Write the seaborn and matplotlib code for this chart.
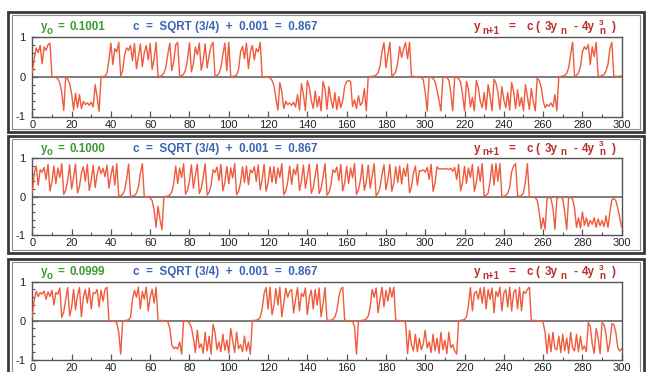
import matplotlib
matplotlib.use("Agg")
import matplotlib.pyplot as plt
from matplotlib.patches import Rectangle
from matplotlib.ticker import MultipleLocator, FixedLocator
import numpy as np
import pandas as pd
import seaborn as sns

# ---------------- data ----------------
steps = list(range(301))

y0_labels = ["0.1001", "0.1000", "0.0999"]
c_label = "c  =  SQRT (3/4)  +  0.001  =  0.867"

x_tick_values = [0, 20, 40, 60, 80, 100, 120, 140, 160, 180, 200, 220, 240, 260, 280, 300]
x_tick_labels = ["0", "20", "40", "60", "80", "100", "120", "140", "160", "180",
                 "300", "220", "240", "260", "280", "300"]
y_tick_values = [-1, 0, 1]
y_tick_labels = ["-1", "0", "1"]

series_a = [
    0.10, 0.45, 0.72, 0.60, 0.78, 0.32, 0.74, 0.66, 0.80, 0.84,
    -0.003, -0.008, -0.02, -0.06, -0.16, -0.40, -0.85, -0.02, -0.06, -0.17,
    -0.42, -0.84, -0.42, -0.78, -0.45, -0.80, -0.62, -0.70, -0.66, -0.72,
    -0.64, -0.76, -0.20, -0.52, -0.87, 0.001, 0.003, 0.01, 0.09, 0.42,
    0.84, 0.30, 0.70, 0.62, 0.86, 0.02, 0.15, 0.55, 0.72, 0.66,
    0.78, 0.40, 0.83, 0.20, 0.50, 0.82, 0.25, 0.60, 0.78, 0.42,
    0.83, 0.18, 0.45, 0.86, 0.004, 0.01, 0.03, 0.09, 0.24, 0.57,
    0.84, 0.15, 0.38, 0.80, 0.86, 0.01, 0.02, 0.06, 0.17, 0.43,
    0.85, 0.12, 0.33, 0.74, 0.55, 0.84, 0.16, 0.40, 0.82, 0.22,
    0.53, 0.77, 0.86, 0.01, 0.03, 0.08, 0.22, 0.55, 0.84, 0.15,
    0.86, 0.004, 0.006, 0.015, 0.04, 0.18, 0.62, 0.76, 0.45, 0.84,
    0.20, 0.62, 0.78, 0.42, 0.70, 0.62, 0.86, 0.001, -0.002, -0.005,
    -0.013, -0.035, -0.09, -0.23, -0.55, -0.84, -0.15, -0.38, -0.80, -0.62,
    -0.70, -0.66, -0.72, -0.64, -0.76, -0.45, -0.84, -0.18, -0.45, -0.85,
    -0.10, -0.26, -0.60, -0.80, -0.36, -0.76, -0.50, -0.86, -0.12, -0.32,
    -0.82, -0.25, -0.58, -0.79, -0.40, -0.83, -0.50, -0.78, -0.60, -0.25,
    -0.12, -0.10, -0.12, -0.75, -0.58, -0.80, -0.48, -0.72, -0.65, -0.30,
    -0.86, 0.001, 0.003, 0.006, 0.015, 0.04, 0.10, 0.27, 0.63, 0.85,
    0.22, 0.55, 0.86, 0.02, 0.05, 0.12, 0.35, 0.75, 0.48, 0.70,
    0.85, 0.45, 0.86, 0.01, 0.005, -0.001, -0.003, -0.008, -0.02, -0.08,
    -0.40, -0.86, -0.01, -0.02, -0.05, -0.13, -0.33, -0.60, -0.86, -0.005,
    -0.012, -0.03, -0.08, -0.40, -0.86, -0.01, -0.02, -0.05, -0.14, -0.45,
    -0.86, -0.12, -0.32, -0.76, -0.52, -0.86, -0.10, -0.27, -0.62, -0.78,
    -0.40, -0.83, -0.20, -0.48, -0.86, -0.06, -0.16, -0.40, -0.82, -0.25,
    -0.58, -0.78, -0.40, -0.84, -0.15, -0.38, -0.80, -0.33, -0.74, -0.52,
    -0.86, -0.20, -0.50, -0.82, -0.30, -0.62, -0.86, -0.04, -0.10, -0.26,
    -0.60, -0.78, -0.70, -0.74, -0.66, -0.76, -0.45, -0.86, 0.002, 0.005,
    0.012, 0.03, 0.08, 0.22, 0.55, 0.86, 0.01, 0.03, 0.09, 0.25,
    0.62, 0.75, 0.68, 0.80, 0.30, 0.75, 0.50, 0.86, 0.005, 0.01,
    0.03, 0.05, 0.14, 0.30, 0.70, 0.86, 0.01, 0.004, 0.006, 0.01,
    0.015,
]

series_b = [
    0.10, 0.62, 0.80, 0.30, 0.70, 0.64, 0.76, 0.45, 0.84, 0.15,
    0.38, 0.80, 0.34, 0.75, 0.50, 0.86, 0.06, 0.17, 0.42, 0.83,
    0.20, 0.50, 0.85, 0.10, 0.26, 0.62, 0.78, 0.40, 0.84, 0.16,
    0.42, 0.82, 0.24, 0.58, 0.79, 0.60, 0.74, 0.52, 0.82, 0.22,
    0.55, 0.80, 0.30, 0.86, 0.01, 0.02, 0.06, 0.17, 0.45, 0.85,
    0.02, 0.01, 0.03, 0.09, 0.25, 0.60, 0.86, -0.002, -0.005, -0.013,
    -0.035, -0.10, -0.35, -0.80, -0.25, -0.60, -0.86, 0.002, 0.005, 0.013,
    0.04, 0.12, 0.35, 0.80, 0.34, 0.75, 0.50, 0.86, 0.06, 0.17,
    0.42, 0.83, 0.22, 0.55, 0.85, 0.08, 0.21, 0.51, 0.86, 0.04,
    0.11, 0.30, 0.70, 0.63, 0.77, 0.42, 0.84, 0.15, 0.37, 0.79,
    0.34, 0.75, 0.49, 0.86, 0.05, 0.14, 0.36, 0.78, 0.37, 0.80,
    0.31, 0.70, 0.62, 0.78, 0.40, 0.83, 0.18, 0.45, 0.84, 0.14,
    0.36, 0.78, 0.37, 0.79, 0.34, 0.75, 0.50, 0.86, 0.05, 0.15,
    0.38, 0.80, 0.32, 0.72, 0.58, 0.84, 0.16, 0.40, 0.82, 0.22,
    0.53, 0.85, 0.09, 0.23, 0.56, 0.85, 0.08, 0.21, 0.52, 0.86,
    0.04, 0.11, 0.30, 0.70, 0.63, 0.77, 0.42, 0.84, 0.15, 0.37,
    0.79, 0.34, 0.75, 0.49, 0.86, 0.06, 0.17, 0.43, 0.84, 0.16,
    0.40, 0.82, 0.22, 0.53, 0.86, 0.03, 0.09, 0.24, 0.58, 0.83,
    0.18, 0.45, 0.84, 0.14, 0.36, 0.78, 0.37, 0.80, 0.33, 0.74,
    0.53, 0.85, 0.10, 0.26, 0.61, 0.80, 0.30, 0.68, 0.67, 0.70,
    0.64, 0.76, 0.45, 0.84, 0.14, 0.36, 0.78, 0.72, 0.72, 0.73,
    0.72, 0.73, 0.71, 0.74, 0.66, 0.76, 0.45, 0.84, 0.15, 0.37,
    0.79, 0.34, 0.75, 0.50, 0.84, 0.14, 0.36, 0.78, 0.40, 0.86,
    0.01, 0.03, 0.09, 0.40, 0.85, 0.30, 0.86, 0.40, 0.86, 0.01,
    0.01, 0.03, 0.09, 0.25, 0.65, 0.80, 0.86, 0.03, 0.01, 0.03,
    0.10, 0.40, 0.86, 0.005, -0.002, -0.01, -0.03, -0.10, -0.40, -0.84,
    -0.55, -0.85, -0.06, -0.02, -0.05, -0.30, -0.85, -0.05, -0.02, -0.01,
    -0.05, -0.40, -0.86, -0.03, -0.02, -0.06, -0.30, -0.80, -0.55, -0.82,
    -0.40, -0.75, -0.55, -0.78, -0.62, -0.72, -0.55, -0.80, -0.58, -0.76,
    -0.62, -0.78, -0.50, -0.80, -0.40, -0.08, -0.05, -0.10, -0.30, -0.55,
    -0.80,
]

series_c = [
    0.10, 0.55, 0.75, 0.62, 0.72, 0.68, 0.76, 0.55, 0.74, 0.62,
    0.78, 0.40, 0.72, 0.68, 0.84, 0.08, 0.22, 0.55, 0.85, 0.12,
    0.33, 0.80, 0.28, 0.65, 0.85, 0.10, 0.60, 0.80, 0.45, 0.84,
    0.30, 0.72, 0.70, 0.80, 0.35, 0.78, 0.50, 0.80, 0.86, 0.002,
    -0.003, -0.008, -0.02, -0.06, -0.30, -0.86, -0.01, 0.002, 0.006, 0.02,
    0.08, 0.55, 0.78, 0.60, 0.86, 0.30, 0.75, 0.55, 0.86, 0.25,
    0.60, 0.80, 0.45, 0.86, 0.005, 0.003, 0.002, 0.001, -0.004, -0.03,
    -0.20, -0.62, -0.72, -0.68, -0.73, -0.55, -0.86, -0.003, -0.008, -0.02,
    -0.06, -0.18, -0.45, -0.82, -0.25, -0.70, -0.60, -0.84, -0.30, -0.78,
    -0.40, -0.86, -0.10, -0.30, -0.75, -0.55, -0.80, -0.35, -0.76, -0.50,
    -0.84, -0.20, -0.52, -0.82, -0.30, -0.72, -0.62, -0.80, -0.40, -0.78,
    -0.55, -0.86, 0.002, 0.004, 0.01, 0.03, 0.09, 0.30, 0.70, 0.85,
    0.30, 0.86, 0.15, 0.40, 0.82, 0.40, 0.86, 0.10, 0.45, 0.83,
    0.60, 0.75, 0.80, 0.20, 0.55, 0.85, 0.25, 0.70, 0.62, 0.84,
    0.15, 0.60, 0.78, 0.30, 0.80, 0.40, 0.84, 0.10, 0.45, 0.85,
    0.01, 0.005, 0.01, 0.03, 0.09, 0.25, 0.60, 0.80, 0.86, 0.01,
    0.002, -0.001, -0.004, -0.02, -0.15, -0.86, -0.01, 0.002, 0.005, 0.015,
    0.04, 0.12, 0.35, 0.80, 0.60, 0.84, 0.20, 0.55, 0.86, 0.35,
    0.78, 0.50, 0.85, 0.60, 0.86, 0.005, 0.003, 0.001, -0.002, -0.01,
    -0.06, -0.85, -0.25, -0.62, -0.78, -0.35, -0.80, -0.45, -0.75, -0.60,
    -0.25, -0.70, -0.55, -0.82, -0.35, -0.78, -0.45, -0.84, -0.30, -0.75,
    -0.50, -0.85, -0.30, -0.70, -0.62, -0.78, -0.86, 0.002, 0.005, 0.012,
    0.03, 0.10, 0.40, 0.85, 0.25, 0.70, 0.75, 0.55, 0.84, 0.45,
    0.86, 0.30, 0.80, 0.55, 0.84, 0.20, 0.75, 0.62, 0.86, 0.25,
    0.70, 0.80, 0.35, 0.86, 0.25, 0.72, 0.80, 0.30, 0.86, 0.25,
    0.75, 0.70, 0.80, 0.86, 0.01, 0.004, 0.002, 0.001, -0.003, -0.01,
    -0.05, -0.30, -0.85, -0.35, -0.80, -0.30, -0.72, -0.75, -0.40, -0.82,
    -0.35, -0.78, -0.45, -0.84, -0.30, -0.70, -0.78, -0.35, -0.80, -0.40,
    -0.75, -0.65, -0.80, -0.05, -0.15, -0.60, -0.84, -0.20, -0.45, -0.85,
    -0.05, -0.10, -0.35, -0.80, -0.55, -0.08, -0.10, -0.30, -0.70, -0.78,
    -0.72,
]

all_series = [series_a, series_b, series_c]

# ---------------- styling ----------------
sns.set_theme(style="white")
plt.rcParams["font.family"] = ["Liberation Sans", "DejaVu Sans"]

LINE = "#ef5b3d"
GREEN = "#3f9a35"
BLUE = "#3a64b4"
RED = "#b8302c"
FRAME = "#555555"
TS = 8.4      # title text size
SS = 7.0      # sub/superscript size

W, H = 651, 372
fig = plt.figure(figsize=(W / 100, H / 100), dpi=100)
fig.patch.set_facecolor("white")


def fx(px):
    return px / W


def fy(py):
    return 1 - py / H


def put(xpx, ypx, s, color, size):
    fig.text(fx(xpx), fy(ypx), s, color=color, fontsize=size, fontweight="bold",
             va="center", ha="left")


ax_left, ax_right = 32.3, 621.7
panels = [(36.7, 116.5), (158.3, 235.0), (281.7, 359.5)]
frames = [(12, 131.5), (136, 252.5), (259, 385)]

for (top, bot), (ftop, fbot), vals, y0 in zip(panels, frames, all_series, y0_labels):
    # panel frames
    fig.patches.append(Rectangle((fx(8), fy(fbot)), fx(643.5) - fx(8), (fbot - ftop) / H,
                                 transform=fig.transFigure, fill=False,
                                 edgecolor="#3a3a3a", linewidth=2.0, zorder=0))
    fig.patches.append(Rectangle((fx(11.5), fy(fbot - 3.0)), fx(640) - fx(11.5),
                                 (fbot - ftop - 6.0) / H,
                                 transform=fig.transFigure, fill=False,
                                 edgecolor="#8a8a8a", linewidth=0.8, zorder=0))

    ax = fig.add_axes([fx(ax_left), fy(bot), fx(ax_right) - fx(ax_left), (bot - top) / H])
    df = pd.DataFrame({"n": steps, "y": vals})
    sns.lineplot(data=df, x="n", y="y", ax=ax, color=LINE, linewidth=1.0, zorder=3)
    ax.axhline(0, color="#666666", linewidth=1.2, zorder=2)
    ax.set_xlim(0, 300)
    ax.set_ylim(-1, 1)
    ax.set_xlabel("")
    ax.set_ylabel("")
    ax.xaxis.set_major_locator(FixedLocator(x_tick_values))
    ax.set_xticklabels(x_tick_labels)
    ax.xaxis.set_minor_locator(MultipleLocator(10))
    ax.yaxis.set_major_locator(FixedLocator(y_tick_values))
    ax.set_yticklabels(y_tick_labels)
    ax.yaxis.set_minor_locator(MultipleLocator(0.2))
    ax.tick_params(axis="both", which="major", direction="in", length=4, width=0.9,
                   color=FRAME, labelsize=8, labelcolor="#222222", pad=2.5)
    ax.tick_params(axis="both", which="minor", direction="in", length=2.5, width=0.8,
                   color=FRAME)
    ax.tick_params(axis="y", which="major", pad=5)
    ax.tick_params(bottom=True, left=True, which="both")
    for sp in ax.spines.values():
        sp.set_color(FRAME)
        sp.set_linewidth(1.0)
    ax.set_facecolor("white")

    yc = top - 9.5
    # green: y_o = value
    put(40.5, yc, "y", GREEN, TS)
    put(47.0, yc + 3.5, "o", GREEN, SS)
    put(57.0, yc, "=", GREEN, TS)
    put(70.0, yc, y0, GREEN, TS)
    # blue constant
    put(133.0, yc, c_label, BLUE, TS)
    # red formula  y_{n+1} = c ( 3y_n - 4y_n^3 )
    put(474.0, yc, "y", RED, TS)
    put(482.0, yc + 3.5, "n+1", RED, SS)
    put(508.5, yc, "=", RED, TS)
    put(526.5, yc, "c", RED, TS)
    put(535.5, yc, "(", RED, TS)
    put(545.0, yc, "3y", RED, TS)
    put(560.5, yc + 3.5, "n", RED, SS)
    put(573.0, yc, "-", RED, TS)
    put(581.5, yc, "4y", RED, TS)
    put(599.0, yc - 4.0, "3", RED, 6.0)
    put(599.0, yc + 3.5, "n", RED, SS)
    put(612.0, yc, ")", RED, TS)

fig.savefig("out.png", dpi=100, facecolor="white")
